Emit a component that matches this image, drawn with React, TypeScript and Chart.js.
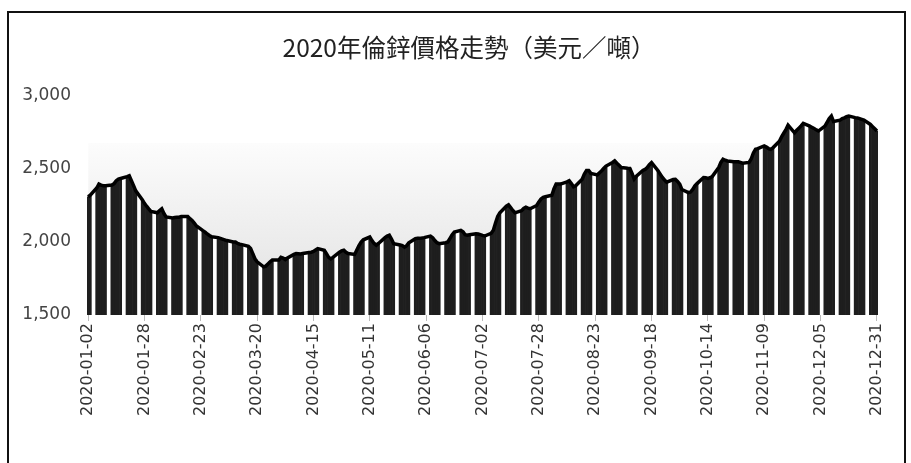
import React, { useEffect, useRef } from "react";
import { Chart, registerables } from "chart.js";

Chart.register(...registerables);

const TITLE = "2020年倫鋅價格走勢（美元／噸）";
const START = [2020, 0, 2];
const END = [2020, 11, 31];
const LABEL_STEP = 26;
const Y_MIN = 1500;
const Y_MAX = 3000;
const Y_STEP = 500;
const GRADIENT_TOP = 2680;

// trading-day closing prices (USD/t), in date order, weekends skipped
const q1Prices = [
  2310, 2320,
  2370, 2397, 2390, 2386, 2386,
  2390, 2400, 2420, 2431, 2435,
  2448, 2454, 2420, 2386, 2350,
  2290, 2265, 2245, 2227, 2210,
  2200, 2215, 2227, 2195, 2172,
  2165, 2168, 2170, 2170, 2175,
  2175, 2160, 2148, 2130, 2110,
  2078, 2068, 2055, 2045, 2036,
  2030, 2025, 2020, 2015, 2010,
  2000, 2000, 1990, 1985, 1982,
  1970, 1955, 1920, 1885, 1864,
  1830, 1835, 1850, 1865, 1876,
  1876, 1895, 1890, 1880, 1890,
];
const q2Prices = [
  1915, 1921, 1920, 1918, 1921,
  1928, 1930, 1935, 1945, 1955,
  1944, 1920, 1895, 1885, 1895,
  1930, 1940, 1944, 1930, 1921,
  1915, 1945, 1975, 2000, 2015,
  2034, 2010, 1990, 1978, 1990,
  2030, 2040, 2046, 2020, 1989,
  1980, 1975, 1965, 1975, 1995,
  2023, 2025, 2025, 2027, 2030,
  2041, 2030, 2010, 1995, 1989,
  1995, 2000, 2025, 2050, 2068,
  2080, 2070, 2050, 2046, 2050,
  2057, 2055, 2050, 2045, 2041,
];
const q3Prices = [
  2060, 2080, 2130, 2175, 2200,
  2245, 2254, 2235, 2216, 2200,
  2215, 2230, 2238, 2232, 2228,
  2250, 2275, 2295, 2306, 2310,
  2320, 2365, 2397, 2398, 2397,
  2412, 2420, 2400, 2378, 2385,
  2430, 2465, 2490, 2490, 2470,
  2460, 2475, 2488, 2505, 2520,
  2545, 2556, 2540, 2525, 2510,
  2505, 2504, 2470, 2431, 2450,
  2490, 2497, 2510, 2530, 2544,
  2488, 2465, 2442, 2425, 2410,
  2428, 2430, 2415, 2397, 2360,
];
const q4Prices = [
  2338, 2342, 2360, 2385, 2400,
  2442, 2440, 2436, 2440, 2448,
  2510, 2545, 2567, 2560, 2555,
  2550, 2550, 2549, 2545, 2540,
  2545, 2570, 2610, 2635, 2640,
  2658, 2650, 2640, 2635, 2645,
  2690, 2720, 2745, 2770, 2800,
  2748, 2765, 2780, 2795, 2812,
  2794, 2785, 2778, 2768, 2760,
  2794, 2820, 2845, 2862, 2825,
  2835, 2845, 2850, 2858, 2862,
  2852, 2850, 2845, 2840, 2835,
  2805, 2790, 2775, 2760,
];

const prices = [...q1Prices, ...q2Prices, ...q3Prices, ...q4Prices];

function buildCalendar() {
  const labels: string[] = [];
  const series: (number | null)[] = [];
  const d = new Date(Date.UTC(START[0], START[1], START[2]));
  const end = Date.UTC(END[0], END[1], END[2]);
  let k = 0;
  while (d.getTime() <= end) {
    labels.push(d.toISOString().slice(0, 10));
    const dow = d.getUTCDay();
    if (dow === 0 || dow === 6) series.push(null);
    else series.push(k < prices.length ? prices[k++] : null);
    d.setUTCDate(d.getUTCDate() + 1);
  }
  return { labels, series };
}

const { labels, series } = buildCalendar();

const fmt = (v: number) => String(v).replace(/\B(?=(\d{3})+(?!\d))/g, ",");

const gradientPlugin = {
  id: "areaGradient",
  beforeDatasetsDraw(chart: any) {
    const { ctx, chartArea, scales } = chart;
    const xs = scales.x;
    const ys = scales.y;
    const pts: [number, number][] = [];
    series.forEach((v, i) => {
      if (v != null) pts.push([xs.getPixelForValue(i), ys.getPixelForValue(v)]);
    });
    if (!pts.length) return;
    const yTop = ys.getPixelForValue(GRADIENT_TOP);
    const yBot = chartArea.bottom;
    const x0 = pts[0][0];
    const x1 = pts[pts.length - 1][0];
    ctx.save();
    ctx.beginPath();
    ctx.rect(x0, yTop, x1 - x0, yBot - yTop);
    ctx.clip();
    ctx.beginPath();
    ctx.moveTo(x0, chartArea.top);
    pts.forEach((p) => ctx.lineTo(p[0], p[1]));
    ctx.lineTo(x1, chartArea.top);
    ctx.closePath();
    ctx.clip();
    const g = ctx.createLinearGradient(0, yTop, 0, yBot);
    g.addColorStop(0, "#fcfcfc");
    g.addColorStop(1, "#e0e0e0");
    ctx.fillStyle = g;
    ctx.fillRect(x0, yTop, x1 - x0, yBot - yTop);
    ctx.restore();
  },
};

const titlePlugin = {
  id: "offsetTitle",
  afterDraw(chart: any) {
    const { ctx } = chart;
    ctx.save();
    ctx.font = "24.5px 'Noto Sans CJK TC', 'DejaVu Sans', sans-serif";
    ctx.fillStyle = "#222";
    ctx.textAlign = "center";
    ctx.textBaseline = "middle";
    ctx.fillText(TITLE, chart.width / 2 + 12.5, 35);
    ctx.restore();
  },
};

export default function App() {
  const ref = useRef<HTMLCanvasElement | null>(null);
  useEffect(() => {
    if (!ref.current) return;
    const chart = new Chart(ref.current, {
      type: "bar",
      data: {
        labels,
        datasets: [
          {
            type: "line",
            data: series,
            borderColor: "#000",
            borderWidth: 3.5,
            pointRadius: 0,
            spanGaps: true,
            fill: false,
            tension: 0,
            order: 0,
          } as any,
          {
            type: "bar",
            data: series,
            backgroundColor: "#1e1e1e",
            borderWidth: 0,
            barPercentage: 1,
            categoryPercentage: 1,
            order: 1,
          } as any,
        ],
      },
      options: {
        animation: false,
        responsive: true,
        maintainAspectRatio: false,
        layout: { padding: { left: 0, right: 26, top: 83, bottom: 45 } },
        plugins: {
          legend: { display: false },
          tooltip: { enabled: false },
          title: { display: false },
        },
        scales: {
          x: {
            offset: true,
            grid: {
              display: true,
              drawOnChartArea: false,
              drawTicks: true,
              tickLength: 6,
              offset: false,
              color: (c: any) => (c.index % LABEL_STEP === 0 ? "#bbb" : "rgba(0,0,0,0)"),
            },
            border: { display: false },
            ticks: {
              autoSkip: false,
              maxRotation: 90,
              minRotation: 90,
              padding: 2,
              color: "#333",
              font: { family: "'DejaVu Sans', sans-serif", size: 16 },
              callback: (_v: any, i: number) => (i % LABEL_STEP === 0 ? labels[i] : ""),
            },
          },
          y: {
            min: Y_MIN,
            max: Y_MAX,
            grid: { display: false },
            border: { display: false },
            afterFit: (s: any) => {
              s.width = 78;
            },
            ticks: {
              stepSize: Y_STEP,
              padding: 8,
              color: "#444",
              font: { family: "'DejaVu Sans', sans-serif", size: 17 },
              callback: (v: any) => fmt(Number(v)),
            },
          },
        },
      },
      plugins: [gradientPlugin, titlePlugin],
    });
    return () => chart.destroy();
  }, []);

  return (
    <div
      style={{
        position: "absolute",
        left: 7,
        top: 11,
        width: 899,
        height: 470,
        boxSizing: "border-box",
        border: "2px solid #111",
        borderBottom: "none",
        background: "#fff",
      }}
    >
      <div style={{ position: "relative", width: 895, height: 450 }}>
        <canvas ref={ref} />
      </div>
    </div>
  );
}
